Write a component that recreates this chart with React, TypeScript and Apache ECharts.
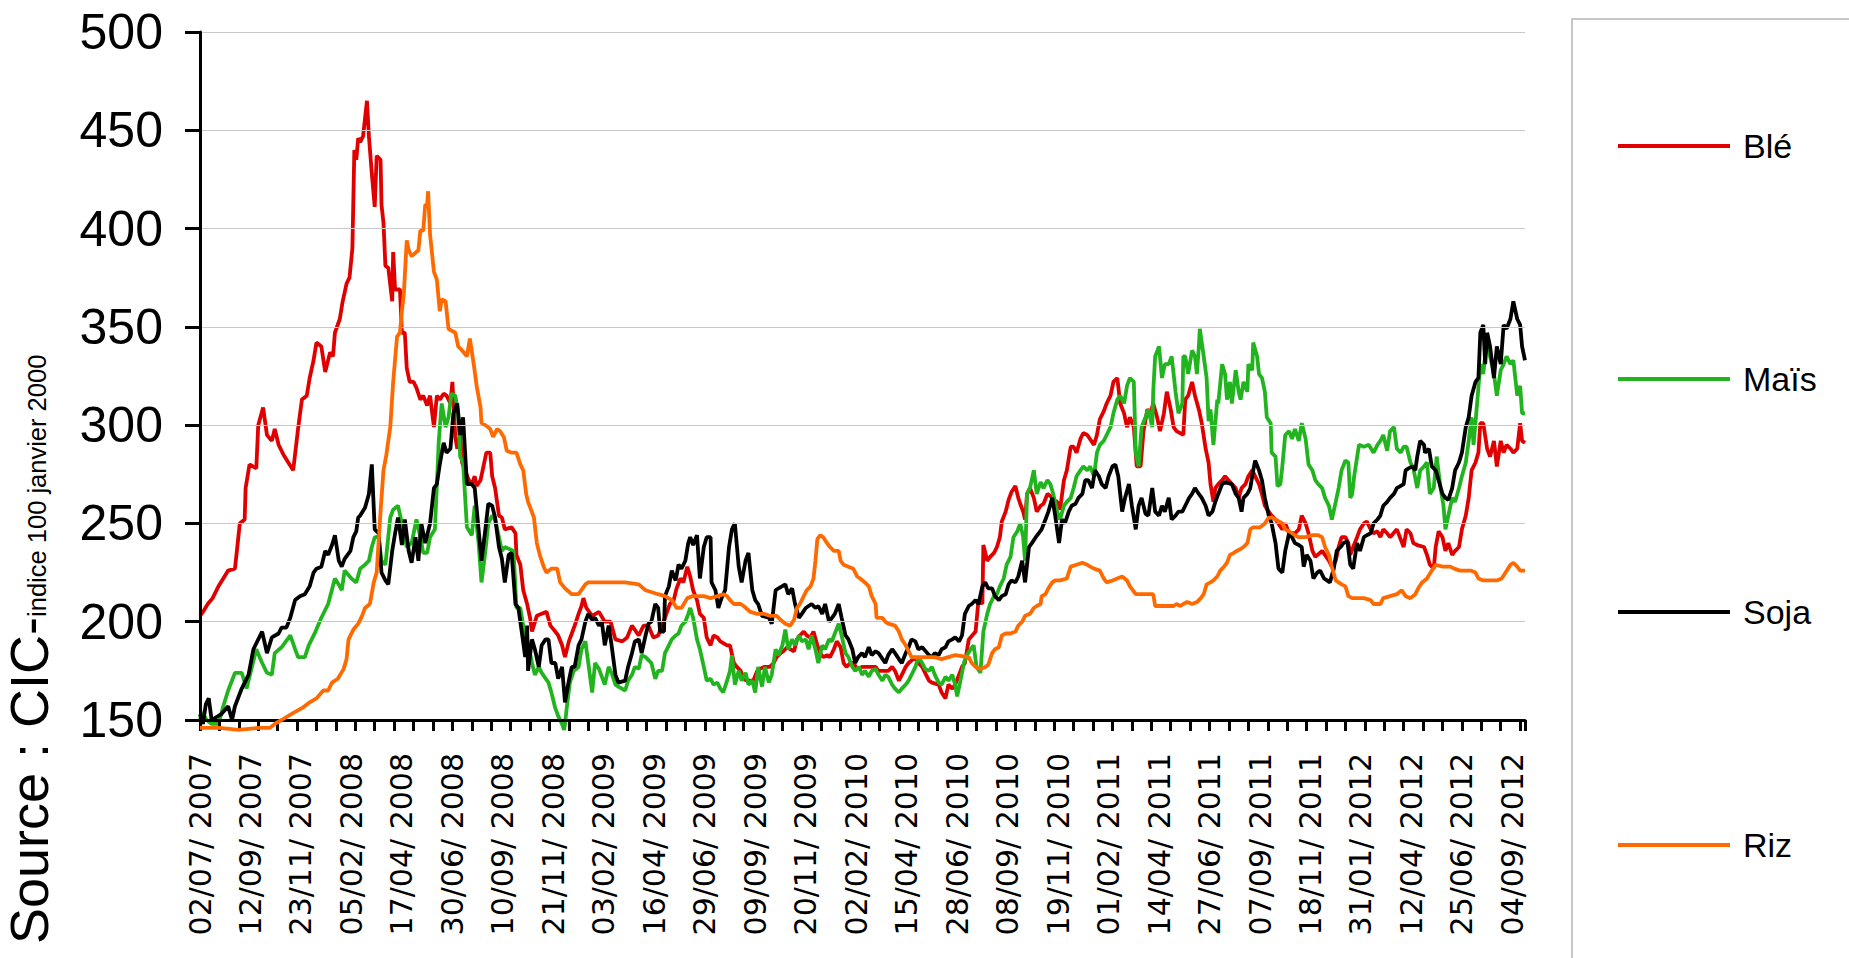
import React, { useEffect, useRef } from "react";
import * as echarts from "echarts";

// x positions are business-day indexes counted from 02/07/2007
const TICK_LABELS = [
  "02/07/ 2007", "12/09/ 2007", "23/11/ 2007", "05/02/ 2008", "17/04/ 2008", "30/06/ 2008",
  "10/09/ 2008", "21/11/ 2008", "03/02/ 2009", "16/04/ 2009", "29/06/ 2009", "09/09/ 2009",
  "20/11/ 2009", "02/02/ 2010", "15/04/ 2010", "28/06/ 2010", "08/09/ 2010", "19/11/ 2010",
  "01/02/ 2011", "14/04/ 2011", "27/06/ 2011", "07/09/ 2011", "18/11/ 2011", "31/01/ 2012",
  "12/04/ 2012", "25/06/ 2012", "04/09/ 2012",
];
const DAYS_PER_LABEL = 52;
const DAYS_PER_TICK = 20;
const LAST_DAY = 1365;

const SERIES_NAMES = ["Blé", "Maïs", "Soja", "Riz"];
const SERIES_COLORS = ["#E00000", "#22B41E", "#000000", "#FF6A00"];

const BLE: [number, number][] = [
  [0,203],[3,205],[8,209],[13,212],[19,218],[24,222],[29,226],[36,227],[38,236],[41,250],[46,252],[47,268],[51,280],[58,278],[60,300],[65,309],[69,295],[74,292],[77,298],[81,290],[86,285],[91,281],[96,277],[101,298],[105,313],[110,315],[113,324],[117,333],[120,342],[125,340],[129,327],[134,337],[137,335],[139,347],[144,354],[147,363],[151,372],[154,375],[157,390],[159,440],[161,435],[163,446],[165,444],[168,447],[172,465],[174,447],[177,428],[180,411],[182,437],[186,435],[187,412],[189,403],[191,381],[194,380],[198,363],[199,388],[201,369],[206,369],[208,347],[211,347],[213,329],[216,322],[220,322],[223,319],[227,313],[230,315],[234,310],[237,315],[241,299],[244,315],[247,313],[251,316],[254,315],[258,311],[260,322],[263,294],[265,288],[268,295],[270,281],[273,277],[277,272],[280,270],[283,274],[285,269],[289,272],[292,279],[295,286],[299,286],[301,274],[304,268],[308,254],[311,253],[314,247],[321,248],[325,245],[326,234],[330,229],[333,216],[337,209],[340,202],[342,195],[347,203],[352,204],[357,205],[361,198],[366,195],[369,193],[373,188],[376,182],[380,190],[383,194],[386,198],[390,204],[393,208],[395,212],[398,207],[404,203],[411,205],[417,200],[423,200],[428,191],[435,190],[440,192],[445,198],[452,193],[457,198],[462,198],[467,192],[472,193],[476,198],[479,202],[484,209],[488,211],[491,217],[495,222],[498,220],[502,228],[505,223],[508,216],[512,211],[515,204],[519,202],[522,192],[526,188],[529,193],[533,192],[536,190],[543,188],[546,188],[550,179],[553,177],[557,175],[560,171],[563,170],[570,170],[574,175],[577,176],[581,177],[587,177],[591,179],[594,182],[598,184],[601,185],[605,187],[608,186],[612,185],[615,191],[618,193],[622,195],[625,193],[629,192],[632,195],[636,188],[639,184],[642,182],[646,183],[649,182],[653,186],[656,190],[660,187],[663,179],[666,177],[670,179],[673,179],[677,176],[682,177],[696,177],[699,175],[709,175],[713,177],[716,175],[720,170],[723,173],[727,177],[730,179],[737,182],[740,179],[744,177],[747,174],[751,170],[754,169],[761,168],[764,164],[768,161],[771,168],[775,166],[778,168],[782,173],[785,177],[788,179],[792,191],[799,195],[802,211],[806,209],[807,239],[811,231],[814,233],[818,235],[821,238],[824,243],[826,251],[830,256],[833,262],[836,266],[840,269],[843,263],[845,260],[848,256],[850,252],[852,265],[855,268],[859,263],[862,256],[866,259],[869,260],[873,265],[876,264],[879,262],[883,261],[886,257],[890,272],[893,277],[897,289],[900,289],[903,286],[907,293],[910,296],[914,295],[921,290],[924,295],[927,303],[931,307],[934,311],[938,315],[941,322],[945,324],[948,311],[952,306],[955,299],[958,304],[962,299],[965,279],[969,279],[972,297],[976,308],[979,306],[982,311],[986,304],[989,297],[993,306],[996,317],[1000,308],[1003,299],[1006,297],[1013,295],[1015,313],[1018,315],[1022,322],[1025,315],[1029,308],[1032,301],[1036,288],[1039,281],[1041,270],[1044,261],[1046,268],[1049,270],[1053,272],[1056,274],[1063,270],[1067,268],[1070,263],[1073,268],[1077,270],[1080,274],[1084,277],[1091,270],[1094,265],[1097,259],[1101,256],[1104,254],[1108,252],[1115,247],[1118,250],[1122,245],[1128,245],[1132,247],[1135,254],[1139,250],[1142,245],[1146,236],[1149,233],[1156,236],[1163,231],[1166,228],[1170,231],[1173,238],[1176,243],[1180,243],[1183,240],[1185,234],[1188,238],[1192,243],[1195,247],[1199,250],[1202,251],[1206,247],[1209,245],[1213,246],[1216,243],[1219,247],[1223,245],[1226,243],[1233,247],[1240,238],[1243,247],[1247,245],[1250,240],[1254,239],[1261,238],[1264,234],[1267,229],[1271,227],[1273,238],[1276,246],[1280,243],[1283,236],[1286,240],[1290,234],[1293,236],[1297,238],[1300,247],[1304,254],[1307,263],[1310,277],[1314,281],[1317,286],[1319,301],[1322,301],[1326,288],[1329,284],[1333,292],[1336,279],[1340,292],[1343,286],[1346,290],[1350,288],[1353,286],[1357,288],[1360,301],[1362,292],[1365,291],
];

const MAIS: [number, number][] = [
  [0,150],[2,154],[7,150],[12,148],[19,148],[24,157],[29,165],[36,174],[43,174],[48,166],[53,176],[58,186],[64,179],[69,174],[74,173],[77,184],[84,187],[93,193],[98,186],[101,182],[108,182],[112,188],[119,195],[125,202],[132,209],[139,222],[144,218],[146,216],[149,226],[156,222],[161,220],[165,227],[170,229],[174,231],[177,238],[180,243],[184,243],[187,231],[191,229],[196,253],[199,257],[204,259],[208,250],[213,238],[218,240],[223,252],[227,243],[230,235],[234,235],[237,243],[242,247],[246,292],[249,311],[253,299],[256,304],[259,316],[263,315],[266,306],[268,284],[271,281],[275,248],[280,244],[283,259],[287,240],[290,220],[294,236],[297,250],[301,254],[304,252],[308,243],[311,236],[314,238],[323,236],[326,207],[330,207],[333,198],[337,191],[342,179],[345,173],[349,177],[352,174],[359,169],[362,164],[366,156],[369,152],[373,148],[375,145],[376,148],[378,157],[381,169],[385,175],[390,177],[393,186],[397,190],[400,179],[404,164],[407,179],[411,176],[417,168],[421,177],[424,174],[428,168],[431,167],[438,165],[441,170],[445,173],[448,177],[452,176],[455,183],[459,182],[465,179],[469,171],[472,175],[476,175],[479,184],[483,188],[486,191],[490,193],[493,194],[496,198],[500,200],[503,204],[505,207],[508,202],[512,191],[515,186],[519,177],[522,170],[526,171],[529,168],[533,169],[536,166],[539,164],[543,170],[546,175],[548,183],[551,168],[555,175],[558,170],[562,174],[565,168],[569,170],[572,164],[575,177],[579,167],[582,177],[586,169],[589,173],[593,186],[596,183],[600,188],[603,196],[606,186],[610,191],[613,188],[617,193],[620,190],[624,191],[627,186],[630,193],[634,186],[637,179],[641,188],[644,186],[648,191],[651,190],[654,194],[658,199],[661,193],[665,184],[668,182],[672,177],[675,175],[679,177],[682,173],[685,175],[689,172],[692,175],[696,176],[699,173],[703,170],[706,173],[709,172],[713,168],[716,166],[720,164],[723,166],[727,168],[730,170],[733,173],[737,177],[740,182],[744,179],[747,176],[751,175],[754,177],[757,173],[761,169],[764,168],[768,172],[771,170],[775,173],[778,168],[780,162],[783,169],[787,179],[790,183],[794,186],[797,188],[800,177],[804,174],[807,195],[811,204],[814,209],[818,213],[821,214],[824,218],[828,222],[831,229],[835,233],[838,243],[842,246],[845,250],[848,243],[850,231],[852,265],[855,268],[859,277],[862,265],[866,271],[869,268],[873,272],[876,270],[879,265],[883,256],[886,252],[890,259],[893,261],[897,263],[900,268],[903,274],[907,277],[910,279],[914,277],[917,279],[921,274],[924,286],[927,290],[931,292],[934,295],[938,299],[941,306],[945,313],[948,315],[952,311],[955,320],[958,324],[962,322],[964,286],[967,279],[970,299],[974,304],[977,308],[981,299],[982,317],[984,335],[988,340],[991,324],[994,331],[998,331],[1001,335],[1005,317],[1008,306],[1012,311],[1013,335],[1015,335],[1018,326],[1022,338],[1025,335],[1027,326],[1029,340],[1030,349],[1034,335],[1037,324],[1039,302],[1041,308],[1044,290],[1048,313],[1049,311],[1053,331],[1056,326],[1058,313],[1061,322],[1063,311],[1067,328],[1070,317],[1072,313],[1075,322],[1079,317],[1080,331],[1084,328],[1085,342],[1089,335],[1091,326],[1094,324],[1097,317],[1099,304],[1103,301],[1104,286],[1108,284],[1110,269],[1113,270],[1115,279],[1118,295],[1122,297],[1125,293],[1128,298],[1132,292],[1135,301],[1139,293],[1142,280],[1146,277],[1149,272],[1152,270],[1156,268],[1159,263],[1163,259],[1166,252],[1170,261],[1173,268],[1176,277],[1180,282],[1183,281],[1185,263],[1187,265],[1189,274],[1194,290],[1199,289],[1204,290],[1209,286],[1213,290],[1216,292],[1219,295],[1223,287],[1226,297],[1230,299],[1233,288],[1237,286],[1240,289],[1243,289],[1247,281],[1250,278],[1254,268],[1257,277],[1261,279],[1264,281],[1267,265],[1271,268],[1274,284],[1278,268],[1281,259],[1283,247],[1286,254],[1290,263],[1293,261],[1297,268],[1300,274],[1304,281],[1307,292],[1310,304],[1312,290],[1316,313],[1319,331],[1322,326],[1326,345],[1329,335],[1333,326],[1336,315],[1340,328],[1343,331],[1346,335],[1350,331],[1353,333],[1357,315],[1360,320],[1362,306],[1365,306],
];

const SOJA: [number, number][] = [
  [0,153],[3,148],[6,158],[9,161],[12,150],[22,153],[29,157],[33,150],[36,157],[43,166],[50,173],[55,186],[64,195],[69,184],[74,192],[81,194],[84,197],[89,197],[93,202],[98,211],[103,213],[108,214],[113,218],[117,225],[120,227],[125,228],[129,236],[132,234],[136,239],[139,244],[143,231],[146,228],[149,232],[155,236],[158,243],[161,246],[163,253],[165,254],[170,258],[174,265],[177,280],[180,247],[184,245],[187,225],[191,221],[194,219],[198,236],[201,245],[204,253],[208,239],[211,252],[215,236],[218,230],[222,243],[225,231],[228,250],[232,240],[237,250],[241,268],[244,270],[247,280],[251,291],[254,286],[258,288],[261,306],[265,311],[268,295],[271,304],[275,270],[280,270],[283,268],[287,247],[290,231],[294,247],[297,260],[301,259],[304,253],[308,238],[311,232],[314,220],[318,234],[321,235],[325,209],[328,207],[332,193],[335,182],[337,198],[338,175],[342,191],[345,186],[349,177],[352,188],[356,191],[359,191],[362,179],[366,179],[369,171],[373,177],[376,159],[380,170],[383,177],[386,177],[390,188],[393,191],[397,200],[400,204],[404,201],[407,202],[411,198],[414,200],[417,188],[421,198],[424,188],[428,173],[431,169],[438,170],[441,177],[445,184],[448,190],[452,191],[455,184],[459,193],[462,199],[465,200],[469,209],[472,207],[474,195],[478,195],[479,213],[483,218],[486,226],[490,221],[493,229],[496,227],[500,231],[503,240],[505,243],[508,239],[512,244],[515,222],[519,238],[522,243],[526,243],[527,220],[531,216],[534,207],[538,213],[541,216],[545,238],[548,247],[551,250],[555,228],[558,220],[562,231],[565,235],[569,216],[572,211],[575,209],[579,203],[586,202],[589,199],[593,216],[596,217],[603,219],[606,214],[610,217],[613,209],[617,202],[620,204],[624,207],[630,209],[634,207],[637,208],[641,204],[644,209],[648,200],[651,202],[654,204],[658,209],[661,202],[665,193],[668,191],[672,186],[675,179],[678,182],[682,184],[685,182],[689,187],[692,183],[696,185],[699,184],[706,179],[709,183],[713,186],[716,184],[720,181],[723,179],[727,184],[730,187],[733,191],[737,190],[740,186],[744,187],[751,183],[754,182],[757,184],[761,183],[764,186],[768,187],[771,190],[775,191],[778,192],[782,190],[785,193],[788,204],[792,208],[795,209],[799,211],[802,209],[806,218],[809,220],[812,217],[816,217],[819,213],[823,211],[826,213],[830,214],[833,219],[836,221],[840,220],[843,223],[847,231],[850,220],[854,238],[857,240],[861,243],[864,245],[867,247],[871,252],[874,256],[878,263],[881,254],[885,240],[888,252],[891,250],[895,256],[898,259],[902,260],[905,263],[909,265],[912,272],[915,272],[919,268],[922,277],[926,274],[929,270],[933,268],[936,274],[940,279],[943,280],[946,274],[950,256],[953,263],[957,270],[960,259],[964,247],[967,259],[970,263],[974,255],[977,254],[981,268],[984,256],[988,254],[991,259],[994,256],[998,263],[1001,252],[1005,254],[1008,256],[1012,256],[1015,259],[1019,263],[1022,265],[1025,268],[1029,265],[1032,263],[1036,259],[1039,254],[1043,256],[1046,261],[1049,265],[1053,270],[1056,271],[1063,270],[1067,265],[1070,263],[1073,256],[1075,263],[1079,265],[1082,268],[1085,277],[1087,282],[1091,277],[1094,272],[1097,263],[1101,254],[1104,250],[1108,240],[1111,227],[1115,225],[1118,236],[1122,245],[1125,243],[1128,240],[1132,239],[1135,238],[1137,228],[1140,234],[1144,231],[1147,222],[1151,225],[1154,226],[1158,222],[1161,221],[1164,220],[1168,227],[1171,236],[1175,238],[1178,240],[1182,241],[1185,229],[1188,227],[1192,240],[1195,236],[1199,243],[1202,244],[1206,245],[1209,250],[1213,252],[1216,254],[1219,259],[1223,261],[1226,263],[1230,265],[1233,268],[1240,270],[1242,277],[1245,278],[1249,279],[1252,277],[1254,284],[1257,292],[1261,290],[1262,286],[1266,288],[1269,279],[1273,277],[1276,272],[1280,265],[1283,263],[1286,262],[1290,268],[1293,277],[1297,281],[1300,286],[1304,299],[1307,304],[1310,315],[1314,322],[1317,324],[1319,347],[1322,351],[1324,331],[1326,347],[1329,340],[1333,324],[1336,340],[1340,331],[1343,351],[1346,349],[1350,354],[1353,363],[1357,354],[1360,351],[1362,340],[1365,333],
];

const RIZ: [number, number][] = [
  [0,146],[20,146],[40,145],[60,146],[72,146],[77,148],[84,150],[94,153],[105,156],[113,159],[120,161],[127,165],[132,165],[136,169],[142,171],[148,176],[151,181],[153,191],[158,196],[163,199],[167,203],[170,207],[175,209],[179,220],[182,225],[186,256],[189,277],[192,285],[196,299],[199,322],[203,345],[206,347],[208,358],[210,367],[213,394],[215,389],[218,386],[225,389],[227,399],[230,399],[232,412],[234,412],[235,419],[237,397],[241,378],[244,374],[247,358],[249,364],[253,363],[256,349],[263,347],[266,340],[270,338],[275,335],[278,344],[282,331],[285,320],[289,309],[290,301],[294,300],[299,298],[302,294],[306,298],[309,297],[313,294],[316,287],[321,286],[326,286],[330,280],[333,277],[336,265],[338,261],[344,253],[347,240],[350,234],[354,228],[357,225],[362,227],[368,227],[371,220],[376,217],[383,214],[390,214],[397,219],[400,220],[417,220],[438,220],[452,219],[459,216],[472,214],[479,213],[486,211],[491,207],[496,207],[502,212],[507,213],[512,213],[519,213],[526,212],[533,213],[539,214],[543,213],[546,211],[550,209],[557,209],[560,208],[567,205],[574,204],[581,204],[587,203],[594,203],[598,201],[603,199],[608,198],[612,201],[615,207],[618,209],[622,213],[625,216],[629,218],[632,222],[634,231],[636,242],[639,244],[642,243],[646,240],[649,238],[653,236],[658,236],[660,231],[663,229],[668,228],[673,227],[677,223],[680,222],[685,220],[689,218],[692,213],[696,209],[697,202],[703,202],[706,200],[709,199],[716,198],[720,195],[723,191],[727,188],[730,185],[733,182],[744,182],[757,182],[764,181],[771,182],[778,183],[792,182],[795,179],[799,177],[804,176],[809,177],[812,178],[816,184],[819,186],[823,187],[826,193],[830,194],[835,194],[840,195],[843,198],[847,200],[850,203],[855,204],[859,207],[862,208],[866,209],[867,213],[871,214],[874,217],[878,220],[881,221],[886,221],[893,222],[897,228],[903,229],[909,230],[914,229],[917,228],[921,227],[927,226],[931,222],[934,220],[940,221],[945,222],[950,223],[955,221],[958,218],[964,214],[982,214],[984,208],[1003,208],[1006,209],[1010,208],[1013,209],[1017,210],[1022,209],[1027,210],[1031,212],[1034,214],[1037,219],[1041,220],[1044,221],[1048,223],[1051,226],[1055,228],[1058,230],[1061,234],[1065,235],[1068,236],[1072,237],[1075,238],[1079,240],[1082,247],[1085,248],[1092,248],[1097,250],[1101,253],[1104,253],[1108,252],[1115,250],[1118,247],[1122,246],[1125,245],[1128,244],[1132,243],[1139,243],[1146,244],[1152,244],[1156,243],[1159,238],[1163,234],[1166,228],[1170,221],[1173,220],[1176,219],[1180,218],[1183,213],[1187,212],[1192,212],[1199,212],[1206,211],[1209,209],[1216,209],[1219,212],[1226,213],[1233,214],[1238,216],[1242,213],[1247,212],[1252,214],[1255,217],[1259,220],[1264,222],[1269,226],[1273,229],[1280,228],[1288,228],[1292,227],[1298,226],[1309,226],[1314,225],[1317,222],[1322,221],[1336,221],[1341,222],[1345,225],[1350,229],[1353,230],[1357,228],[1360,226],[1365,226],
];

const SERIES_DATA = [BLE, MAIS, SOJA, RIZ];

export default function App() {
  const ref = useRef<HTMLDivElement>(null);

  useEffect(() => {
    if (!ref.current) return;
    const chart = echarts.init(ref.current, undefined, { renderer: "svg" });

    const labelFormatter = (v: number) => {
      const k = Math.round(v / DAYS_PER_LABEL);
      if (Math.abs(v - k * DAYS_PER_LABEL) > 1e-6) return "";
      return TICK_LABELS[k] ?? "";
    };

    chart.setOption({
      animation: false,
      backgroundColor: "#ffffff",
      color: SERIES_COLORS,
      grid: { left: 200, right: 324, top: 32, bottom: 238 },
      xAxis: [
        {
          type: "value",
          min: 0,
          max: LAST_DAY,
          interval: DAYS_PER_TICK,
          position: "bottom",
          z: 5,
          axisLine: { show: true, onZero: false, lineStyle: { color: "#000", width: 3 } },
          axisTick: { show: true, length: 11, lineStyle: { color: "#000", width: 3 } },
          axisLabel: { show: false },
          splitLine: { show: false },
        },
        {
          type: "value",
          min: 0,
          max: LAST_DAY,
          interval: DAYS_PER_LABEL,
          position: "bottom",
          axisLine: { show: false, onZero: false },
          axisTick: { show: false },
          splitLine: { show: false },
          axisLabel: {
            show: true,
            rotate: 90,
            margin: 33,
            fontSize: 30,
            fontFamily: "DejaVu Sans",
            color: "#000",
            formatter: labelFormatter,
          },
        },
      ],
      yAxis: {
        type: "value",
        min: 150,
        max: 500,
        interval: 50,
        z: 5,
        axisLine: { show: true, lineStyle: { color: "#000", width: 3 } },
        axisTick: { show: true, length: 15, lineStyle: { color: "#000", width: 3 } },
        axisLabel: { fontSize: 50, fontFamily: "Liberation Sans", color: "#000", margin: 37 },
        splitLine: { show: true, lineStyle: { color: "#c8c8c8", width: 1.2 } },
      },
      legend: {
        orient: "vertical",
        left: 1613,
        top: 124,
        itemWidth: 112,
        itemHeight: 4,
        itemGap: 199,
        icon: "rect",
        itemStyle: { borderWidth: 0 },
        textStyle: { fontSize: 34, fontFamily: "Liberation Sans", color: "#000", padding: [0, 0, 0, 8] },
        data: SERIES_NAMES,
      },
      graphic: [
        {
          type: "rect",
          shape: { x: 1572, y: 19, width: 400, height: 1100 },
          style: { fill: "none", stroke: "#b5b5b5", lineWidth: 1.5 },
          z: -1,
        },
        {
          type: "text",
          x: 56,
          y: 944,
          rotation: Math.PI / 2,
          style: {
            text: "{a|Source : CIC-}{b|indice 100 janvier 2000}",
            align: "left",
            verticalAlign: "bottom",
            rich: {
              a: { fontSize: 54, fontFamily: "Liberation Sans", fill: "#000", verticalAlign: "bottom" },
              b: { fontSize: 25.5, fontFamily: "Liberation Sans", fill: "#000", verticalAlign: "bottom", padding: [0, 0, 6, 0] },
            },
          },
        },
      ],
      series: SERIES_NAMES.map((name, i) => ({
        name,
        type: "line",
        xAxisIndex: 0,
        data: SERIES_DATA[i],
        symbol: "none",
        showSymbol: false,
        clip: false,
        itemStyle: { color: SERIES_COLORS[i] },
        lineStyle: { color: SERIES_COLORS[i], width: 3.8 },
        z: 2 + i,
      })),
    });

    return () => chart.dispose();
  }, []);

  return (
    <div
      ref={ref}
      style={{ position: "fixed", left: 0, top: 0, width: 1849, height: 958, background: "#fff" }}
    />
  );
}
